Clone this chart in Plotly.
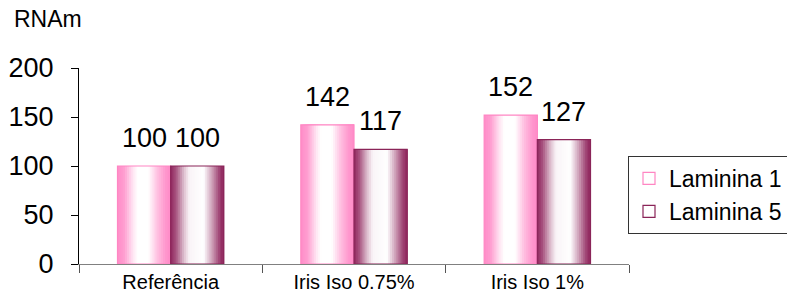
import plotly.graph_objects as go

categories = ["Referência", "Iris Iso 0.75%", "Iris Iso 1%"]
series_names = ["Laminina 1", "Laminina 5"]
laminina1 = [100, 142, 152]
laminina5 = [100, 117, 127]
y_ticks = [0, 50, 100, 150, 200]

FONT = "Liberation Sans, Arial, sans-serif"

# style: edge colours, outline colours and horizontal shading profiles
edge_rgb = [(255, 140, 200), (145, 40, 95)]
outline_col = ["#ff86c3", "#8a2458"]
profiles = [
    [(0.0, 0.0), (0.12, 0.15), (0.3, 0.8), (0.38, 1.0), (0.58, 1.0), (0.75, 0.45), (0.9, 0.1), (1.0, 0.0)],
    [(0.0, 0.0), (0.1, 0.2), (0.25, 0.7), (0.35, 0.95), (0.62, 1.0), (0.78, 0.55), (0.92, 0.12), (1.0, 0.0)],
]
BAR_W = 0.29
N_STRIPES = 28


def prof(p, t):
    for (t0, v0), (t1, v1) in zip(p, p[1:]):
        if t0 <= t <= t1:
            return v0 + (v1 - v0) * (t - t0) / (t1 - t0)
    return p[-1][1]


def mix(rgb, w):
    r, g, b = (round(c + (255 - c) * w) for c in rgb)
    return f"rgb({r},{g},{b})"


fig = go.Figure()
all_series = [laminina1, laminina5]
for s, vals in enumerate(all_series):
    base_off = -BAR_W if s == 0 else 0.0
    for i in range(N_STRIPES):
        t0 = i / N_STRIPES
        tc = (i + 0.5) / N_STRIPES
        fig.add_trace(go.Bar(
            x=categories, y=vals,
            offset=base_off + t0 * BAR_W, width=BAR_W * (1 - t0),
            marker=dict(color=mix(edge_rgb[s], prof(profiles[s], tc)), line=dict(width=0)),
            showlegend=False, hoverinfo="skip",
        ))
    fig.add_trace(go.Bar(
        x=categories, y=vals, name=series_names[s],
        offset=base_off, width=BAR_W,
        marker=dict(color="rgba(255,255,255,0)", line=dict(width=1.2, color=outline_col[s])),
    ))

annotations = []
for s, vals in enumerate(all_series):
    for i, v in enumerate(vals):
        annotations.append(dict(
            x=i + (-BAR_W / 2 if s == 0 else BAR_W / 2), y=v, xref="x", yref="y",
            text=str(v), showarrow=False, yanchor="bottom", yshift=11,
            font=dict(family=FONT, size=27, color="black"),
        ))

fig.update_layout(
    width=787, height=295,
    margin=dict(l=79, r=158, t=68, b=31, autoexpand=False),
    paper_bgcolor="white", plot_bgcolor="white",
    barmode="overlay",
    font=dict(family=FONT, color="black"),
    title=dict(text="RNAm", x=14 / 787, xref="container", xanchor="left",
               y=1 - 19 / 295, yref="container", yanchor="middle",
               font=dict(family=FONT, size=23, color="black")),
    annotations=annotations,
    legend=dict(x=(628 - 79) / 550, xanchor="left", y=(264 - 156) / 196, yanchor="top",
                bordercolor="#333333", borderwidth=1, bgcolor="white",
                font=dict(family=FONT, size=23, color="black"),
                itemwidth=30, tracegroupgap=0),
    showlegend=True,
)
fig.update_xaxes(
    type="category", categoryorder="array", categoryarray=categories,
    range=[-0.5, 2.5], showline=True, linecolor="#808080", linewidth=1,
    ticks="outside", tickson="boundaries", ticklen=8, tickcolor="#555555",
    tickfont=dict(family=FONT, size=20, color="black"), showgrid=False,
)
fig.update_yaxes(
    range=[0, 200], tickvals=y_ticks, showline=True, linecolor="black", linewidth=1,
    ticks="outside", ticklen=7, tickcolor="black", ticklabelstandoff=12,
    tickfont=dict(family=FONT, size=27, color="black"), showgrid=False, zeroline=False,
)

fig.write_html("out.html", config={"displayModeBar": False},
               post_script="document.body.style.margin='0';document.body.style.padding='0';")
